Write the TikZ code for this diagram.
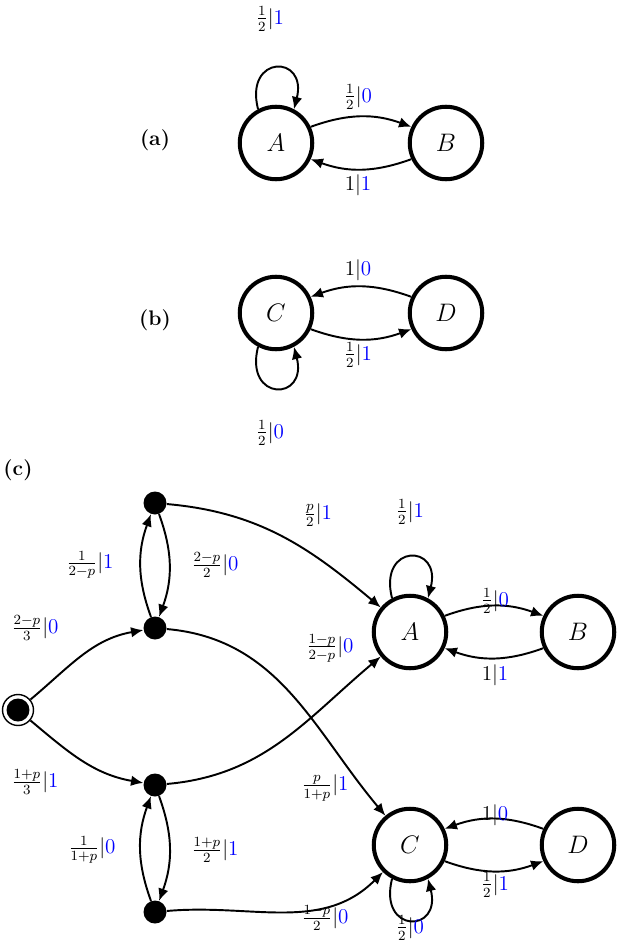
\documentclass[tikz,border=0pt]{standalone}
\usetikzlibrary{arrows.meta}
\begin{document}
\begin{tikzpicture}[x=0.02cm,y=-0.02cm,
 st/.style={circle,draw,line width=2.3pt,minimum size=1.45cm,inner sep=0pt,font=\Large},
 dot/.style={circle,fill,minimum size=0.46cm,inner sep=0pt},
 ed/.style={line width=1.1pt,-{Latex[length=7pt,width=6pt]}},
 lb/.style={font=\large,inner sep=1pt},
 lpu/.style={ed,to path={.. controls +(-14,-55) and +(14,-55) .. (\tikztotarget)}},
 lpd/.style={ed,to path={.. controls +(-14,55) and +(14,55) .. (\tikztotarget)}}]
\newcommand{\bl}[1]{\textcolor{blue}{#1}}
\useasboundingbox (0,0) rectangle (620,946);
% (a)
\node[lb] (la) at (155,140) {\textbf{(a)}};
\node[st] (A1) at (276,143) {$A$};
\node[st] (B1) at (446,143) {$B$};
\draw[lpu] (A1.118) to (A1.62);
\draw[ed] (A1.25) to[bend left=20] (B1.155);
\draw[ed] (B1.-155) to[bend left=20] (A1.-25);
\node[lb] at (270,19) {$\frac12|\bl{1}$};
\node[lb] at (358,97) {$\frac12|\bl{0}$};
\node[lb] at (358,185) {$1|\bl{1}$};
% (b)
\node[lb] (lb2) at (155,320) {\textbf{(b)}};
\node[st] (C1) at (276,313) {$C$};
\node[st] (D1) at (446,313) {$D$};
\draw[ed] (D1.155) to[bend right=20] (C1.25);
\draw[ed] (C1.-25) to[bend right=20] (D1.-155);
\draw[lpd] (C1.-118) to (C1.-62);
\node[lb] at (358,270) {$1|\bl{0}$};
\node[lb] at (358,355) {$\frac12|\bl{1}$};
\node[lb] at (270,433) {$\frac12|\bl{0}$};
% (c)
\node[lb] (lc) at (18,470) {\textbf{(c)}};
\node[circle,draw,line width=0.8pt,minimum size=0.62cm,inner sep=0pt] (s) at (18,710) {};
\node[dot,minimum size=0.46cm] at (18,710) {};
\node[dot] (d1) at (155,503) {};
\node[dot] (d2) at (155,628) {};
\node[dot] (d3) at (155,785) {};
\node[dot] (d4) at (155,912) {};
\node[st] (A) at (410,632) {$A$};
\node[st] (B) at (578,632) {$B$};
\node[st] (C) at (410,845) {$C$};
\node[st] (D) at (578,845) {$D$};
\draw[lpu] (A.118) to (A.62);
\draw[ed] (A.25) to[bend left=20] (B.155);
\draw[ed] (B.-155) to[bend left=20] (A.-25);
\draw[ed] (D.155) to[bend right=20] (C.25);
\draw[ed] (C.-25) to[bend right=20] (D.-155);
\draw[lpd] (C.-118) to (C.-62);
\draw[ed] (s) to[out=40,in=190] (d2);
\draw[ed] (s) to[out=-40,in=170] (d3);
\draw[ed] (d1) to[out=-5,in=140] (A);
\draw[ed] (d2) to[out=-5,in=130] (C);
\draw[ed] (d3) to[out=5,in=-140] (A);
\draw[ed] (d4) to[out=5,in=-135] (C);
\draw[ed] (d2.110) to[bend left=20] (d1.-110);
\draw[ed] (d1.-70) to[bend left=20] (d2.70);
\draw[ed] (d4.110) to[bend left=20] (d3.-110);
\draw[ed] (d3.-70) to[bend left=20] (d4.70);
\node[lb] at (318,515) {$\frac{p}{2}|\bl{1}$};
\node[lb] at (410,512) {$\frac12|\bl{1}$};
\node[lb] at (495,601) {$\frac12|\bl{0}$};
\node[lb] at (495,675) {$1|\bl{1}$};
\node[lb] at (90,565) {$\frac{1}{2-p}|\bl{1}$};
\node[lb] at (215,565) {$\frac{2-p}{2}|\bl{0}$};
\node[lb] at (35,628) {$\frac{2-p}{3}|\bl{0}$};
\node[lb] at (330,648) {$\frac{1-p}{2-p}|\bl{0}$};
\node[lb] at (35,782) {$\frac{1+p}{3}|\bl{1}$};
\node[lb] at (325,788) {$\frac{p}{1+p}|\bl{1}$};
\node[lb] at (495,815) {$1|\bl{0}$};
\node[lb] at (495,885) {$\frac12|\bl{1}$};
\node[lb] at (92,850) {$\frac{1}{1+p}|\bl{0}$};
\node[lb] at (215,850) {$\frac{1+p}{2}|\bl{1}$};
\node[lb] at (325,918) {$\frac{1-p}{2}|\bl{0}$};
\node[lb] at (410,928) {$\frac12|\bl{0}$};
\end{tikzpicture}
\end{document}
